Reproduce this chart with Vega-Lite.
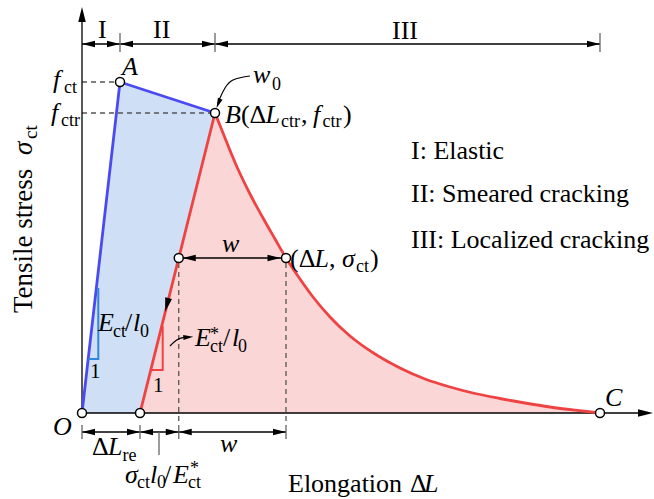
{
  "$schema": "https://vega.github.io/schema/vega-lite/v6.json",
  "width": 654,
  "height": 499,
  "padding": 0,
  "autosize": {"type": "none"},
  "config": {"view": {"stroke": null}, "text": {"font": "Liberation Serif", "color": "black"}},
  "encoding": {
    "x": {"field": "x", "type": "quantitative", "scale": {"domain": [-82, 572], "nice": false, "zero": false}, "axis": null},
    "y": {"field": "y", "type": "quantitative", "scale": {"domain": [-86, 413], "nice": false, "zero": false}, "axis": null}
  },
  "layer": [
    {
      "description": "pre-peak region O-A-B-reload point",
      "data": {"values": [
        {"x": 0, "y": 0, "ylo": 0},
        {"x": 38, "y": 331, "ylo": 0},
        {"x": 58, "y": 324.5, "ylo": 0},
        {"x": 133, "y": 300, "ylo": 300}
      ]},
      "mark": {"type": "area", "interpolate": "linear", "color": "#cfe0f6", "opacity": 1},
      "encoding": {"y2": {"field": "ylo"}}
    },
    {
      "description": "softening region under the unloading line and the descending branch",
      "data": {"values": [
        {"x": 58, "y": 0}, {"x": 133, "y": 300}, {"x": 145, "y": 270}, {"x": 155, "y": 246},
        {"x": 168, "y": 219}, {"x": 181, "y": 195}, {"x": 193, "y": 174}, {"x": 204, "y": 155},
        {"x": 218, "y": 134}, {"x": 231, "y": 116}, {"x": 248, "y": 96}, {"x": 268, "y": 77},
        {"x": 293, "y": 59}, {"x": 318, "y": 45}, {"x": 343, "y": 34}, {"x": 368, "y": 26},
        {"x": 393, "y": 19.5}, {"x": 418, "y": 14.5}, {"x": 443, "y": 10}, {"x": 468, "y": 6},
        {"x": 493, "y": 2.8}, {"x": 518, "y": 0}
      ]},
      "mark": {"type": "area", "interpolate": "linear", "color": "#fad6d6", "opacity": 1},
      "encoding": {"y2": {"datum": 0}}
    },
    {
      "description": "dashed guide lines",
      "data": {"values": [
        {"x": 0, "y": 331, "x2": 38, "y2": 331},
        {"x": 0, "y": 300, "x2": 133, "y2": 300},
        {"x": 96.75, "y": 150, "x2": 96.75, "y2": -12},
        {"x": 204, "y": 150, "x2": 204, "y2": -12}
      ]},
      "mark": {"type": "rule", "color": "#555555", "strokeWidth": 1.3, "strokeDash": [5, 4]},
      "encoding": {"x2": {"field": "x2"}, "y2": {"field": "y2"}}
    },
    {
      "description": "axes and dimension lines",
      "data": {"values": [
        {"x": 0, "y": 0, "x2": 0, "y2": 398},
        {"x": 0, "y": 0, "x2": 562, "y2": 0},
        {"x": 0, "y": 369, "x2": 518, "y2": 369},
        {"x": 0, "y": -19, "x2": 204, "y2": -19},
        {"x": 100.75, "y": 155, "x2": 200, "y2": 155}
      ]},
      "mark": {"type": "rule", "color": "black", "strokeWidth": 1.3},
      "encoding": {"x2": {"field": "x2"}, "y2": {"field": "y2"}}
    },
    {
      "description": "dimension ticks",
      "data": {"values": [
        {"x": 38, "y": 361, "x2": 38, "y2": 380},
        {"x": 133, "y": 361, "x2": 133, "y2": 380},
        {"x": 518, "y": 361, "x2": 518, "y2": 380},
        {"x": 0, "y": -12, "x2": 0, "y2": -26},
        {"x": 58, "y": -12, "x2": 58, "y2": -26},
        {"x": 96.75, "y": -12, "x2": 96.75, "y2": -26},
        {"x": 204, "y": -12, "x2": 204, "y2": -26},
        {"x": 77, "y": -19, "x2": 77, "y2": -42}
      ]},
      "mark": {"type": "rule", "color": "#666666", "strokeWidth": 1.3},
      "encoding": {"x2": {"field": "x2"}, "y2": {"field": "y2"}}
    },
    {
      "description": "loading branch O-A-B",
      "data": {"values": [{"x": 0, "y": 0}, {"x": 38, "y": 331}, {"x": 133, "y": 300}]},
      "mark": {"type": "line", "color": "#4a4af0", "strokeWidth": 2.8},
      "encoding": {}
    },
    {
      "description": "unloading / reloading line",
      "data": {"values": [{"x": 58, "y": 0, "x2": 133, "y2": 300}]},
      "mark": {"type": "rule", "color": "#ef4343", "strokeWidth": 2.8},
      "encoding": {"x2": {"field": "x2"}, "y2": {"field": "y2"}}
    },
    {
      "description": "descending branch B-C",
      "data": {"values": [
        {"x": 133, "y": 300}, {"x": 145, "y": 270}, {"x": 155, "y": 246},
        {"x": 168, "y": 219}, {"x": 181, "y": 195}, {"x": 193, "y": 174}, {"x": 204, "y": 155},
        {"x": 218, "y": 134}, {"x": 231, "y": 116}, {"x": 248, "y": 96}, {"x": 268, "y": 77},
        {"x": 293, "y": 59}, {"x": 318, "y": 45}, {"x": 343, "y": 34}, {"x": 368, "y": 26},
        {"x": 393, "y": 19.5}, {"x": 418, "y": 14.5}, {"x": 443, "y": 10}, {"x": 468, "y": 6},
        {"x": 493, "y": 2.8}, {"x": 518, "y": 0}
      ]},
      "mark": {"type": "line", "color": "#ef4343", "strokeWidth": 2.8, "interpolate": "monotone"},
      "encoding": {}
    },
    {
      "description": "slope triangle for the elastic stiffness",
      "data": {"values": [{"x": 6.3, "y": 54}, {"x": 16.3, "y": 54}, {"x": 16.3, "y": 125}]},
      "mark": {"type": "line", "color": "#2f86dc", "strokeWidth": 2},
      "encoding": {"order": {"field": "y"}}
    },
    {
      "description": "slope triangle for the unloading stiffness",
      "data": {"values": [{"x": 68.7, "y": 43}, {"x": 80.7, "y": 43}, {"x": 80.7, "y": 87}]},
      "mark": {"type": "line", "color": "#ef4343", "strokeWidth": 2},
      "encoding": {"order": {"field": "y"}}
    },
    {
      "description": "leader from w0 to B",
      "data": {"values": [{"x": 136, "y": 310}, {"x": 138, "y": 315}, {"x": 143, "y": 325}, {"x": 151, "y": 333}, {"x": 168, "y": 337}]},
      "mark": {"type": "line", "color": "black", "strokeWidth": 1.2, "interpolate": "monotone"},
      "encoding": {}
    },
    {
      "description": "leader from the unloading triangle to its label",
      "data": {"values": [{"x": 88, "y": 67}, {"x": 94.7, "y": 73}, {"x": 102, "y": 75.7}, {"x": 105, "y": 76}]},
      "mark": {"type": "line", "color": "black", "strokeWidth": 1.2, "interpolate": "monotone"},
      "encoding": {}
    },
    {
      "description": "arrowheads pointing right",
      "data": {"values": [{"x": 38, "y": 369}, {"x": 133, "y": 369}, {"x": 518, "y": 369}, {"x": 58, "y": -19}, {"x": 96.75, "y": -19}, {"x": 204, "y": -19}, {"x": 198.5, "y": 155}]},
      "mark": {"type": "point", "shape": "M0,0L-2,-0.5L-2,0.5Z", "filled": true, "color": "black", "opacity": 1, "size": 169, "angle": 0, "strokeWidth": 0}
    },
    {
      "description": "arrowheads pointing left",
      "data": {"values": [{"x": 0, "y": 369}, {"x": 38, "y": 369}, {"x": 133, "y": 369}, {"x": 0, "y": -19}, {"x": 58, "y": -19}, {"x": 96.75, "y": -19}, {"x": 100.75, "y": 155}]},
      "mark": {"type": "point", "shape": "M0,0L-2,-0.5L-2,0.5Z", "filled": true, "color": "black", "opacity": 1, "size": 169, "angle": 180, "strokeWidth": 0}
    },
    {
      "description": "x axis arrowhead",
      "data": {"values": [{"x": 571, "y": 0}]},
      "mark": {"type": "point", "shape": "M0,0L-2,-0.5L-2,0.5Z", "filled": true, "color": "black", "opacity": 1, "size": 225, "angle": 0, "strokeWidth": 0}
    },
    {
      "description": "y axis arrowhead",
      "data": {"values": [{"x": 0, "y": 406}]},
      "mark": {"type": "point", "shape": "M0,0L-2,-0.5L-2,0.5Z", "filled": true, "color": "black", "opacity": 1, "size": 225, "angle": 270, "strokeWidth": 0}
    },
    {
      "description": "unloading direction arrowhead",
      "data": {"values": [{"x": 83.2, "y": 101.3}]},
      "mark": {"type": "point", "shape": "M0,0L-2,-0.5L-2,0.5Z", "filled": true, "color": "black", "opacity": 1, "size": 196, "angle": 104, "strokeWidth": 0}
    },
    {
      "description": "w0 leader arrowhead",
      "data": {"values": [{"x": 134.5, "y": 305}]},
      "mark": {"type": "point", "shape": "M0,0L-2,-0.5L-2,0.5Z", "filled": true, "color": "black", "opacity": 1, "size": 100, "angle": 112, "strokeWidth": 0}
    },
    {
      "description": "stiffness label leader arrowhead",
      "data": {"values": [{"x": 111.3, "y": 76.3}]},
      "mark": {"type": "point", "shape": "M0,0L-2,-0.5L-2,0.5Z", "filled": true, "color": "black", "opacity": 1, "size": 100, "angle": 355, "strokeWidth": 0}
    },
    {
      "description": "characteristic points",
      "data": {"values": [
        {"x": 0, "y": 0}, {"x": 38, "y": 331}, {"x": 133, "y": 300}, {"x": 58, "y": 0},
        {"x": 96.75, "y": 155}, {"x": 204, "y": 155}, {"x": 518, "y": 0}
      ]},
      "mark": {"type": "point", "shape": "circle", "filled": true, "fill": "white", "stroke": "black", "strokeWidth": 1.5, "size": 81, "opacity": 1}
    },
    {
      "description": "upright text",
      "data": {"values": [
        {"x": 16, "y": 375, "t": "I"},
        {"x": 71, "y": 375, "t": "II"},
        {"x": 310, "y": 374, "t": "III"},
        {"x": 329, "y": 254, "t": "I: Elastic"},
        {"x": 329, "y": 211, "t": "II: Smeared cracking"},
        {"x": 329, "y": 165, "t": "III: Localized cracking"},
        {"x": 159, "y": 290, "t": "("},
        {"x": 167.6, "y": 290, "t": "Δ"},
        {"x": 219, "y": 290, "t": ","},
        {"x": 261, "y": 290, "t": ")"},
        {"x": 208, "y": 146, "t": "("},
        {"x": 216.7, "y": 146, "t": "Δ"},
        {"x": 247, "y": 146, "t": ","},
        {"x": 288, "y": 146, "t": ")"},
        {"x": 43, "y": 82, "t": "/"},
        {"x": 141, "y": 67, "t": "/"},
        {"x": 10, "y": -42, "t": "Δ"},
        {"x": 82, "y": -70, "t": "/"},
        {"x": 206, "y": -79, "t": "Elongation"},
        {"x": 328, "y": -79, "t": "Δ"}
      ]},
      "mark": {"type": "text", "font": "Liberation Serif", "align": "left", "baseline": "alphabetic", "fontSize": 26},
      "encoding": {"text": {"field": "t"}}
    },
    {
      "description": "italic symbols",
      "data": {"values": [
        {"x": 40, "y": 338, "t": "A"},
        {"x": 143, "y": 290, "t": "B"},
        {"x": 183.5, "y": 290, "t": "L"},
        {"x": 231, "y": 290, "t": "f"},
        {"x": -29, "y": 325, "t": "f"},
        {"x": -31, "y": 292, "t": "f"},
        {"x": 171, "y": 330, "t": "w"},
        {"x": 232.6, "y": 146, "t": "L"},
        {"x": 260, "y": 146, "t": "σ"},
        {"x": 140, "y": 161, "t": "w"},
        {"x": 16, "y": 82, "t": "E"},
        {"x": 51, "y": 82, "t": "l"},
        {"x": 113, "y": 67, "t": "E"},
        {"x": 150, "y": 67, "t": "l"},
        {"x": -29, "y": -22, "t": "O"},
        {"x": 26, "y": -42, "t": "L"},
        {"x": 138, "y": -39, "t": "w"},
        {"x": 43, "y": -70, "t": "σ"},
        {"x": 68, "y": -70, "t": "l"},
        {"x": 91, "y": -70, "t": "E"},
        {"x": 523, "y": 7, "t": "C"},
        {"x": 342, "y": -79, "t": "L"}
      ]},
      "mark": {"type": "text", "font": "Liberation Serif", "align": "left", "baseline": "alphabetic", "fontSize": 26, "fontStyle": "italic"},
      "encoding": {"text": {"field": "t"}}
    },
    {
      "description": "subscripts",
      "data": {"values": [
        {"x": -18, "y": 320, "t": "ct"},
        {"x": -21, "y": 287, "t": "ctr"},
        {"x": 199, "y": 286, "t": "ctr"},
        {"x": 240.5, "y": 286, "t": "ctr"},
        {"x": 190, "y": 323, "t": "0"},
        {"x": 274, "y": 141, "t": "ct"},
        {"x": 31, "y": 76, "t": "ct"},
        {"x": 58, "y": 76, "t": "0"},
        {"x": 128, "y": 61, "t": "ct"},
        {"x": 156, "y": 61, "t": "0"},
        {"x": 40.5, "y": -48, "t": "re"},
        {"x": 55, "y": -75, "t": "ct"},
        {"x": 75, "y": -75, "t": "0"},
        {"x": 106, "y": -75, "t": "ct"}
      ]},
      "mark": {"type": "text", "font": "Liberation Serif", "align": "left", "baseline": "alphabetic", "fontSize": 18},
      "encoding": {"text": {"field": "t"}}
    },
    {
      "description": "superscript stars",
      "data": {"values": [{"x": 128, "y": 73, "t": "*"}, {"x": 108, "y": -61, "t": "*"}]},
      "mark": {"type": "text", "font": "Liberation Serif", "align": "left", "baseline": "alphabetic", "fontSize": 18},
      "encoding": {"text": {"field": "t"}}
    },
    {
      "description": "unit legs of the slope triangles",
      "data": {"values": [{"x": 8, "y": 35, "t": "1"}, {"x": 71, "y": 21, "t": "1"}]},
      "mark": {"type": "text", "font": "Liberation Serif", "align": "left", "baseline": "alphabetic", "fontSize": 21},
      "encoding": {"text": {"field": "t"}}
    },
    {
      "description": "vertical axis title",
      "data": {"values": [{"x": -50, "y": 100, "t": "Tensile stress"}]},
      "mark": {"type": "text", "font": "Liberation Serif", "align": "left", "baseline": "alphabetic", "fontSize": 27, "angle": 270},
      "encoding": {"text": {"field": "t"}}
    },
    {
      "data": {"values": [{"x": -50, "y": 258, "t": "σ"}]},
      "mark": {"type": "text", "font": "Liberation Serif", "align": "left", "baseline": "alphabetic", "fontSize": 27, "fontStyle": "italic", "angle": 270},
      "encoding": {"text": {"field": "t"}}
    },
    {
      "data": {"values": [{"x": -45, "y": 274, "t": "ct"}]},
      "mark": {"type": "text", "font": "Liberation Serif", "align": "left", "baseline": "alphabetic", "fontSize": 19, "angle": 270},
      "encoding": {"text": {"field": "t"}}
    }
  ]
}
